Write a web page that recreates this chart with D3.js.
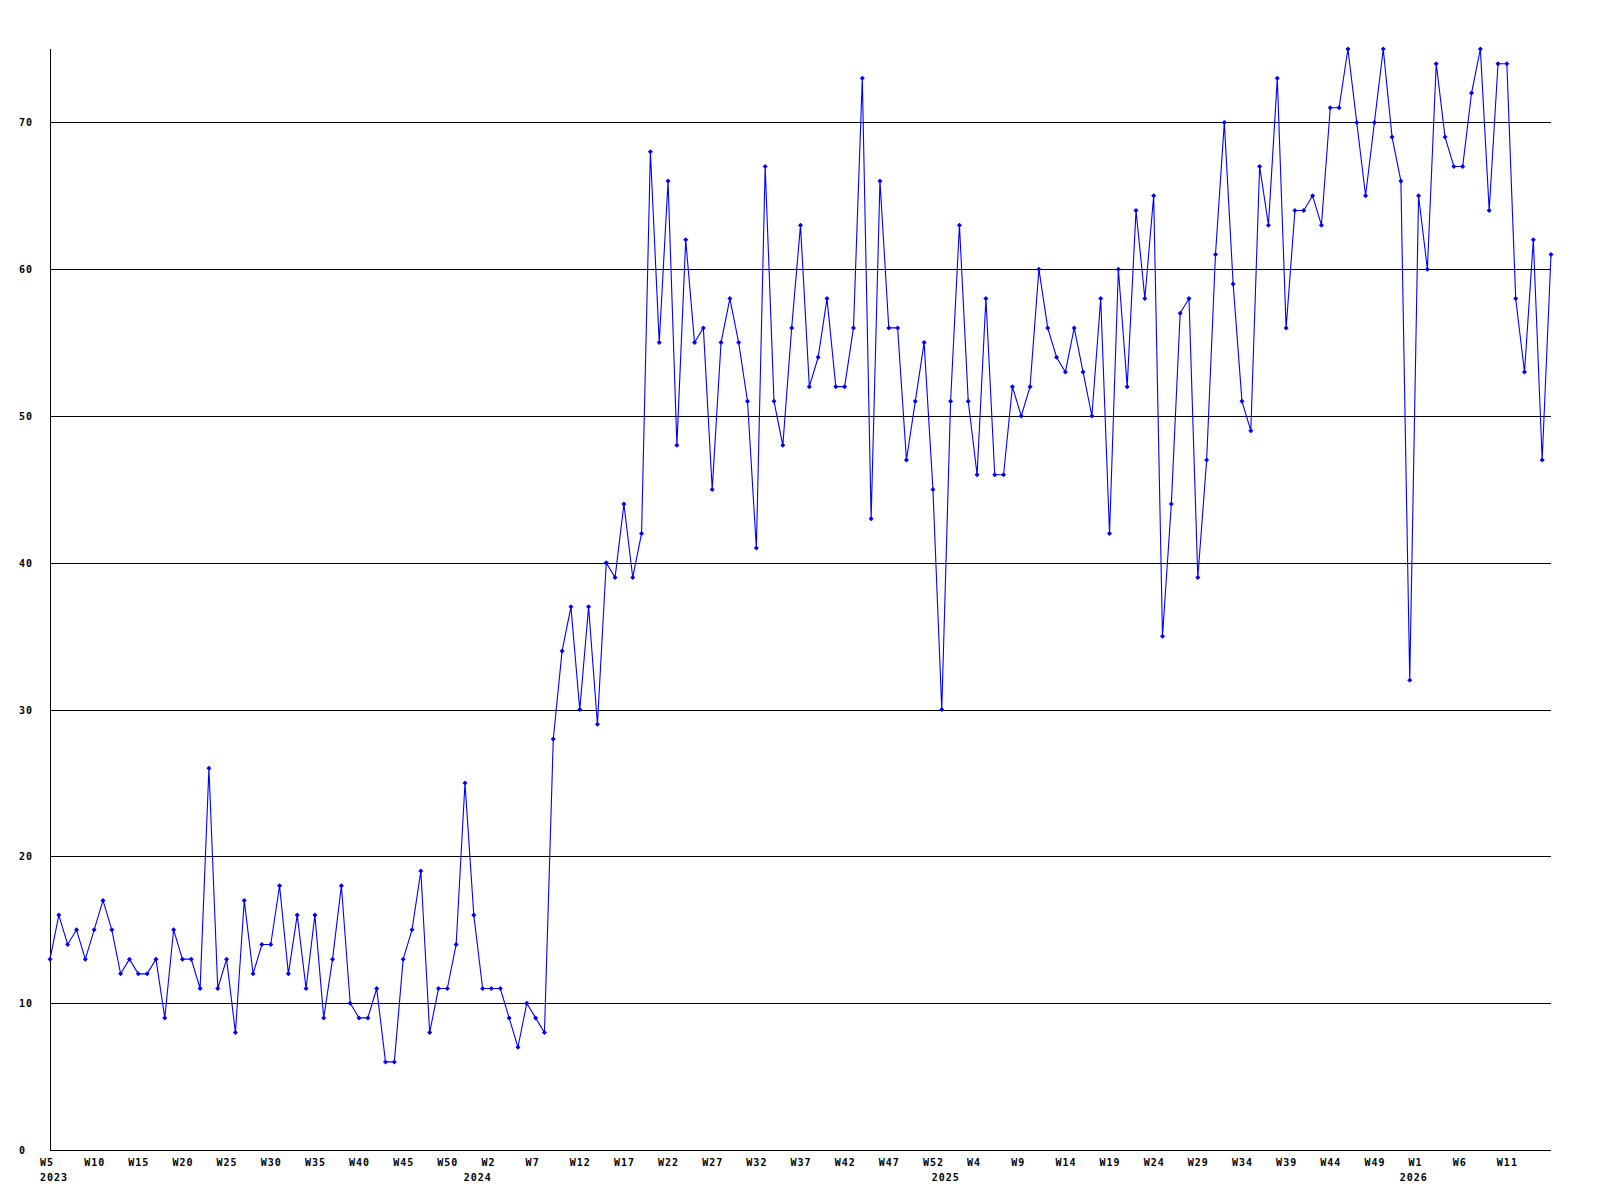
<!DOCTYPE html>
<html>
<head>
<meta charset="utf-8">
<script src="https://cdn.jsdelivr.net/npm/d3@7"></script>
<style>
  html, body { margin: 0; padding: 0; background: #fff; }
  text { font-family: "DejaVu Sans Mono", monospace; font-weight: bold; font-size: 10px; letter-spacing: 1px; fill: #000; }
</style>
</head>
<body>
<svg id="chart" width="1600" height="1200"></svg>
<script>
// Week spans per year (first and last week number shown)
const yearSpans = [
  { year: "2023", first: 5, last: 52 },
  { year: "2024", first: 0, last: 52 },
  { year: "2025", first: 0, last: 52 },
  { year: "2026", first: 0, last: 16 }
];

// Weekly values
const values2023 = [13,16,14,15,13,15,17,15,12,13,12,12,13,9,15,13,13,11,26,11,13,8,17,12,14,14,18,12,16,11,16,9,13,18,10,9,9,11,6,6,13,15,19,8,11,11,14,25];
const values2024 = [16,11,11,11,9,7,10,9,8,28,34,37,30,37,29,40,39,44,39,42,68,55,66,48,62,55,56,45,55,58,55,51,41,67,51,48,56,63,52,54,58,52,52,56,73,43,66,56,56,47,51,55,45];
const values2025 = [30,51,63,51,46,58,46,46,52,50,52,60,56,54,53,56,53,50,58,42,60,52,64,58,65,35,44,57,58,39,47,61,70,59,51,49,67,63,73,56,64,64,65,63,71,71,75,70,65,70,75,69,66];
const values2026 = [32,65,60,74,69,67,67,72,75,64,74,74,58,53,62,47,61];

const yTicks = [0,10,20,30,40,50,60,70];
const labelEvery = 5;

// Build categories
const seriesByYear = [values2023, values2024, values2025, values2026];
const data = [];
yearSpans.forEach((s, yi) => {
  const vals = seriesByYear[yi];
  for (let w = s.first, k = 0; w <= s.last; w++, k++) {
    data.push({ year: s.year, week: w, label: "W" + w, value: vals[k], firstOfYear: k === 0 });
  }
});
data.forEach((d, i) => d.i = i);

const svg = d3.select("#chart");
const pLeft = 50, pRight = 1551, pTop = 49, pBottom = 1150;

const x = d3.scaleLinear().domain([0, data.length - 1]).range([pLeft, pRight]);
const y = d3.scaleLinear().domain([0, 75]).range([pBottom, pTop]);

// gridlines
svg.append("g").selectAll("line").data(yTicks.filter(t => t > 0)).join("line")
  .attr("x1", pLeft).attr("x2", pRight)
  .attr("y1", d => Math.round(y(d)) + 0.5).attr("y2", d => Math.round(y(d)) + 0.5)
  .attr("stroke", "#000").attr("stroke-width", 1).attr("shape-rendering", "crispEdges");

// axes lines
svg.append("line").attr("x1", pLeft + 0.5).attr("x2", pLeft + 0.5).attr("y1", pTop).attr("y2", pBottom + 0.5)
  .attr("stroke", "#000").attr("shape-rendering", "crispEdges");
svg.append("line").attr("x1", pLeft).attr("x2", pRight).attr("y1", pBottom + 0.5).attr("y2", pBottom + 0.5)
  .attr("stroke", "#000").attr("shape-rendering", "crispEdges");

// y labels (left aligned)
svg.append("g").selectAll("text").data(yTicks).join("text")
  .attr("x", 19).attr("y", d => y(d) + 4)
  .attr("text-anchor", "start")
  .text(d => d);

// x week labels (every 5th week, the last point has no label)
svg.append("g").selectAll("text").data(data.filter(d => d.i % labelEvery === 0 && d.i < data.length - 1)).join("text")
  .attr("x", d => x(d.i) - 10).attr("y", 1166)
  .attr("text-anchor", "start")
  .text(d => d.label);

// year labels
svg.append("g").selectAll("text").data(data.filter(d => d.firstOfYear)).join("text")
  .attr("x", d => x(d.i) - 10).attr("y", 1181)
  .attr("text-anchor", "start")
  .text(d => d.year);

// line
const line = d3.line().x(d => x(d.i)).y(d => y(d.value));
svg.append("path").datum(data)
  .attr("d", line)
  .attr("fill", "none").attr("stroke", "#0000ff").attr("stroke-width", 1.1);

// markers (small square diamonds)
const diamondShape = d3.symbolDiamond2 || d3.symbolDiamond;
const marker = d3.symbol().type(diamondShape).size(16);
svg.append("g").selectAll("path").data(data).join("path")
  .attr("transform", d => `translate(${x(d.i)},${y(d.value)})`)
  .attr("d", marker)
  .attr("fill", "#0000ff");
</script>
</body>
</html>
